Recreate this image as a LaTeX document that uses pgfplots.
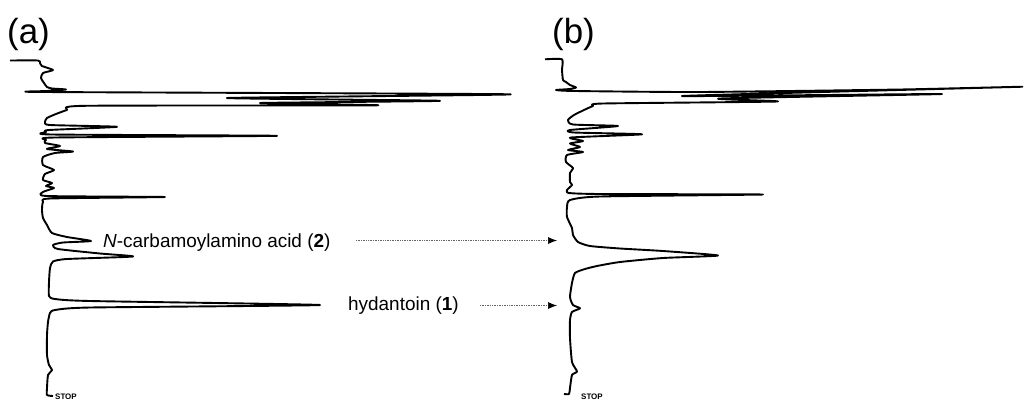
\documentclass[border=0pt]{standalone}
\usepackage{pgfplots}
\pgfplotsset{compat=1.18}
\usepackage{fontspec}
\setmainfont{Liberation Sans}
\usetikzlibrary{arrows.meta}
\begin{document}
\begin{tikzpicture}
\begin{axis}[x=1bp,y=1bp,xmin=0,xmax=1024,ymin=0,ymax=401,y dir=reverse,
  hide axis,clip=false,scale only axis]
\coordinate (BL) at (axis cs:0,401);
\coordinate (TR) at (axis cs:1024,0);
% panel (a)
\addplot[black, line width=1.9bp, line join=round, mark=none, smooth, tension=0.35] table {
x y
10 60.5
38 60.5
40 63
42 66
53 70
43 73
41 78
44 83
47 87
52 88.5
66 89.5
47 91
45 92
510 94.3
227 98
440 100.8
260 103
377 105.3
85 105.8
67 110
56 114
47 118
45 122
50 125
117 126.8
49 130
46 132
52 134.5
277 135.8
55 137.5
46 140
45 143
60 146
47 149
73 151.5
55 153
43 157
43 165
54 170
45 174
43 180
52 183
46 186
54 188
43 192
47 196
165 197
50 198.5
43 202
42 210
43 218
47 225
52 233
67 237
91 241
63 242.5
53 245
58 249
100 253.5
133 256.5
67 259
53 261.5
50 268
49 282
49 296
55 299
90 301
320 305
90 307.5
55 310
50 313
48 322
47 335
47 355
49 365
52 370
48 375
47 388
47 395
53 396
};
% panel (b)
\addplot[black, line width=1.9bp, line join=round, mark=none, smooth, tension=0.35] table {
x y
545 59.3
562 59.3
562 70
563 80
566 82
570 85
576 87.5
570 89
556 90
575 91
700 92
900 89.5
1020 86.8
682 96
942 94
720 98.5
777 101.5
603 103.5
593 106
584 110
574 115
568 120
573 124.5
618 126
570 130
574 132.5
642 134.3
571 137.5
583 141
570 143.5
580 147
568 150
583 152
567 155
566 162
573 168
570 173
570 182
572 185
567 190
569 193
600 194
763 194.5
600 196.5
570 200
567 207
567 217
572 228
573 235
578 242
590 246
620 248.5
663 251
718 255.5
663 258
620 262
597 266
585 269
575 273
572 283
570 297
573 305
580 308.3
572 312
570 320
570 338
572 362
577 371.5
572 375
570 388
569 394
564 394
};
\node[anchor=west, font=\fontsize{35}{35}\selectfont, inner sep=0] at (axis cs:7,34) {(a)};
\node[anchor=west, font=\fontsize{35}{35}\selectfont, inner sep=0] at (axis cs:552,34) {(b)};
\node[anchor=west, font=\fontsize{19}{19}\selectfont, inner sep=0] at (axis cs:103,243) {\textit{N}-carbamoylamino acid (\textbf{2})};
\node[anchor=west, font=\fontsize{19}{19}\selectfont, inner sep=0] at (axis cs:348,305.5) {hydantoin (\textbf{1})};
\draw[densely dotted, black!60, line width=0.7bp, -{Latex[length=9bp,width=7bp,black]}] (axis cs:356,240.5) -- (axis cs:557,240.5);
\draw[densely dotted, black!60, line width=0.7bp, -{Latex[length=9bp,width=7bp,black]}] (axis cs:480,305.5) -- (axis cs:557,305.5);
\node[anchor=south west, font=\fontsize{8}{8}\selectfont\bfseries, inner sep=0] at (axis cs:55,399.5) {STOP};
\node[anchor=south west, font=\fontsize{8}{8}\selectfont\bfseries, inner sep=0] at (axis cs:581,399.5) {STOP};
\end{axis}
\pgfresetboundingbox
\path[use as bounding box] (BL) rectangle (TR);
\end{tikzpicture}
\end{document}
